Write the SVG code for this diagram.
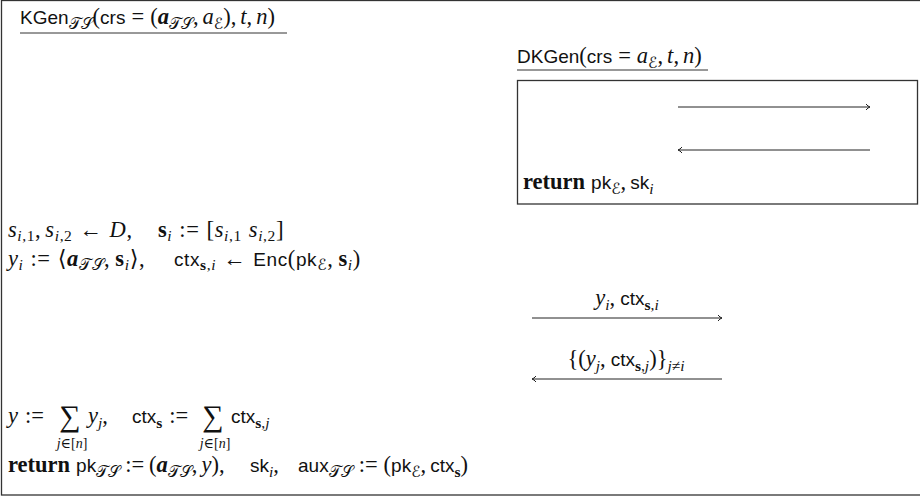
<svg xmlns="http://www.w3.org/2000/svg" width="920" height="498" viewBox="0 0 920 498">
<defs>
<style>
.r{font-family:"Liberation Serif","DejaVu Serif",serif;font-size:22.5px;fill:#111}
.w{letter-spacing:0.6px}
.i{font-style:italic}
.sf{font-family:"Liberation Sans","DejaVu Sans",sans-serif;font-size:19px;font-style:normal}
.bf{font-weight:bold}
.s{font-size:15.5px}
.ss{font-size:14px}
.c{font-family:"DejaVu Serif","DejaVu Sans",serif;font-style:normal}
.frame{fill:none;stroke:#333;stroke-width:1.3}
.ul{stroke:#333;stroke-width:1}
.arr{stroke:#222;stroke-width:1;fill:none;marker-end:url(#ah)}
</style>
<marker id="ah" markerUnits="userSpaceOnUse" markerWidth="10" markerHeight="10" refX="6" refY="4" orient="auto">
<path d="M2,1 Q4,3.5 6,4 Q4,4.5 2,7" fill="none" stroke="#222" stroke-width="1"/>
</marker>
</defs>

<g id="kgen">
<rect class="frame" x="1.5" y="0.5" width="940" height="494.5"/>
<text class="r" x="20" y="24"><tspan class="sf">KGen</tspan><tspan class="s c" dy="5">𝒯𝒮</tspan><tspan dy="-5">(</tspan><tspan class="sf">crs</tspan><tspan dx="6">=</tspan><tspan dx="6">(</tspan><tspan class="i bf">a</tspan><tspan class="s c" dy="5">𝒯𝒮</tspan><tspan dy="-5">,</tspan><tspan class="i" dx="4">a</tspan><tspan class="s c" dy="5">ℰ</tspan><tspan dy="-5">),</tspan><tspan class="i" dx="4">t</tspan>,<tspan class="i" dx="4">n</tspan>)</text>
<line class="ul" x1="20" y1="33" x2="287" y2="33"/>

<text class="r w" x="8" y="237"><tspan class="i">s</tspan><tspan class="s" dy="4"><tspan class="i">i</tspan>,1</tspan><tspan dy="-4">,</tspan><tspan class="i" dx="4">s</tspan><tspan class="s" dy="4"><tspan class="i">i</tspan>,2</tspan><tspan dy="-4" dx="7">←</tspan><tspan class="i" dx="7">D</tspan>,</text>
<text class="r w" x="158" y="237"><tspan class="bf">s</tspan><tspan class="s i" dy="4">i</tspan><tspan dy="-4" dx="7">:=</tspan><tspan dx="7" style="font-size:23px">[</tspan><tspan class="i">s</tspan><tspan class="s" dy="4"><tspan class="i">i</tspan>,1</tspan><tspan class="i" dy="-4" dx="7">s</tspan><tspan class="s" dy="4"><tspan class="i">i</tspan>,2</tspan><tspan dy="-4" style="font-size:23px">]</tspan></text>

<text class="r w" x="8" y="266"><tspan class="i">y</tspan><tspan class="s i" dy="4">i</tspan><tspan dy="-4" dx="7">:=</tspan><tspan dx="7">⟨</tspan><tspan class="i bf">a</tspan><tspan class="s c" dy="4">𝒯𝒮</tspan><tspan dy="-4">,</tspan><tspan class="bf" dx="5">s</tspan><tspan class="s i" dy="4">i</tspan><tspan dy="-4">⟩,</tspan></text>
<text class="r w" x="174" y="266"><tspan class="sf">ctx</tspan><tspan class="s" dy="4"><tspan class="bf">s</tspan>,<tspan class="i">i</tspan></tspan><tspan dy="-4" dx="7">←</tspan><tspan class="sf" dx="7">Enc</tspan>(<tspan class="sf">pk</tspan><tspan class="s c" dy="4">ℰ</tspan><tspan dy="-4">,</tspan><tspan class="bf" dx="5">s</tspan><tspan class="s i" dy="4">i</tspan><tspan dy="-4">)</tspan></text>

<text class="r" x="8" y="423"><tspan class="i">y</tspan><tspan dx="7">:=</tspan></text>
<text class="r" x="70" y="426" text-anchor="middle" style="font-size:30px">∑</text>
<text class="r ss" x="72" y="448" text-anchor="middle"><tspan class="i">j</tspan>∈[<tspan class="i">n</tspan>]</text>
<text class="r" x="88" y="423"><tspan class="i">y</tspan><tspan class="s i" dy="5">j</tspan><tspan dy="-5">,</tspan></text>
<text class="r" x="132" y="423"><tspan class="sf">ctx</tspan><tspan class="s bf" dy="5">s</tspan><tspan dy="-5" dx="7">:=</tspan></text>
<text class="r" x="213" y="426" text-anchor="middle" style="font-size:30px">∑</text>
<text class="r ss" x="215" y="448" text-anchor="middle"><tspan class="i">j</tspan>∈[<tspan class="i">n</tspan>]</text>
<text class="r" x="231" y="423"><tspan class="sf">ctx</tspan><tspan class="s" dy="5"><tspan class="bf">s</tspan>,<tspan class="i">j</tspan></tspan></text>

<text class="r" x="8" y="472"><tspan class="bf">return</tspan><tspan class="sf" dx="6">pk</tspan><tspan class="s c" dy="5">𝒯𝒮</tspan><tspan dy="-5" dx="5">:=</tspan><tspan dx="5">(</tspan><tspan class="i bf">a</tspan><tspan class="s c" dy="5">𝒯𝒮</tspan><tspan dy="-5">,</tspan><tspan class="i" dx="4">y</tspan>),</text>
<text class="r" x="250" y="472"><tspan class="sf">sk</tspan><tspan class="s i" dy="5">i</tspan><tspan dy="-5">,</tspan></text>
<text class="r" x="298" y="472"><tspan class="sf">aux</tspan><tspan class="s c" dy="5">𝒯𝒮</tspan><tspan dy="-5" dx="6">:=</tspan><tspan dx="6">(</tspan><tspan class="sf">pk</tspan><tspan class="s c" dy="5">ℰ</tspan><tspan dy="-5">,</tspan><tspan class="sf" dx="4">ctx</tspan><tspan class="s bf" dy="5">s</tspan><tspan dy="-5">)</tspan></text>
</g>

<g id="dkgen">
<text class="r" x="517" y="63"><tspan class="sf">DKGen</tspan>(<tspan class="sf">crs</tspan><tspan dx="6">=</tspan><tspan class="i" dx="6">a</tspan><tspan class="s c" dy="5">ℰ</tspan><tspan dy="-5">,</tspan><tspan class="i" dx="4">t</tspan>,<tspan class="i" dx="4">n</tspan>)</text>
<line class="ul" x1="517" y1="70" x2="708" y2="70"/>
<rect class="frame" x="517.5" y="80.5" width="400" height="123.5"/>
<text class="r" x="523" y="189"><tspan class="bf">return</tspan><tspan class="sf" dx="6">pk</tspan><tspan class="s c" dy="5">ℰ</tspan><tspan dy="-5">,</tspan><tspan class="sf" dx="4">sk</tspan><tspan class="s i" dy="5">i</tspan></text>
</g>

<g id="connectors">
<line class="arr" x1="678" y1="107" x2="870" y2="107"/>
<line class="arr" x1="870" y1="150" x2="678" y2="150"/>
<line class="arr" x1="532" y1="318" x2="722" y2="318"/>
<line class="arr" x1="722" y1="379" x2="532" y2="379"/>
<text class="r" x="627" y="305" text-anchor="middle"><tspan class="i">y</tspan><tspan class="s i" dy="5">i</tspan><tspan dy="-5">,</tspan><tspan class="sf" dx="5">ctx</tspan><tspan class="s" dy="5"><tspan class="bf">s</tspan>,<tspan class="i">i</tspan></tspan></text>
<text class="r" x="626" y="366" text-anchor="middle">{(<tspan class="i">y</tspan><tspan class="s i" dy="5">j</tspan><tspan dy="-5">,</tspan><tspan class="sf" dx="5">ctx</tspan><tspan class="s" dy="5"><tspan class="bf">s</tspan>,<tspan class="i">j</tspan></tspan><tspan dy="-5">)}</tspan><tspan class="s" dy="5"><tspan class="i">j</tspan>≠<tspan class="i">i</tspan></tspan></text>
</g>
</svg>
